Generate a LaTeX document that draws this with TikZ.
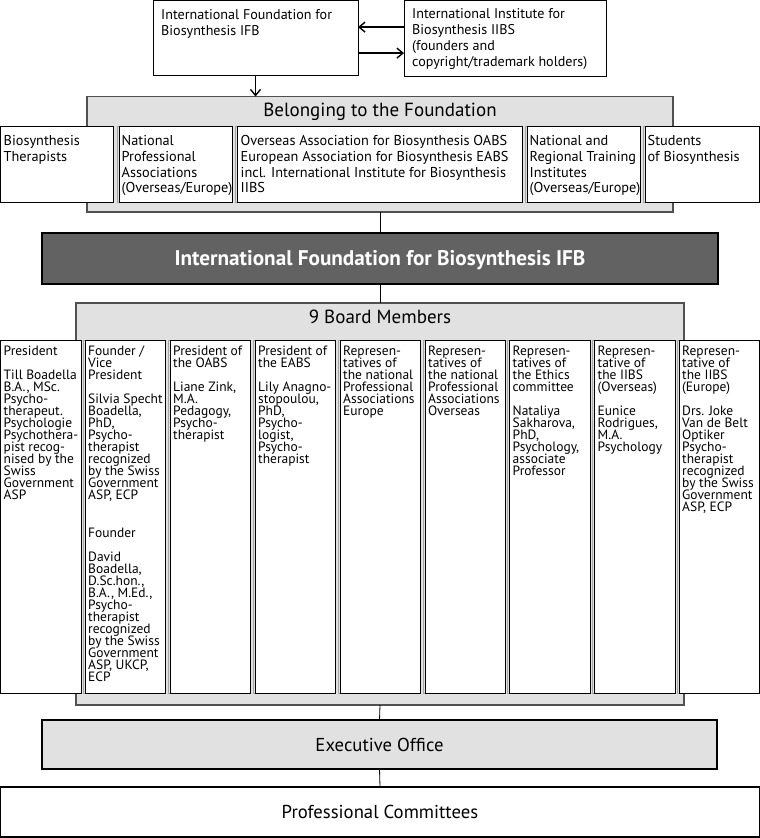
\documentclass[tikz,border=0pt]{standalone}
\usepackage{fontspec}
\setmainfont{PT Sans}
\usetikzlibrary{arrows.meta,calc}
\definecolor{lgray}{HTML}{E1E1E1}
\definecolor{dgray}{HTML}{626262}
\definecolor{edgegray}{HTML}{505050}
\newcommand\boardfont{\fontsize{13.5}{12}\selectfont\lineskiplimit=-20pt}
\newcommand\rowfont{\fontsize{14.3}{15.6}\selectfont\lineskiplimit=-20pt}
\newcommand\topfont{\fontsize{14.1}{16}\selectfont\lineskiplimit=-20pt}
\newcommand\titlefont{\fontsize{19}{21}\selectfont}
\newcommand\bigfont{\fontsize{18.7}{21}\selectfont}
\newcommand\darkfont{\fontsize{21.2}{24}\selectfont\bfseries}
\newcommand\placebox[6]{%
  \node[#1, minimum width={(#5-#3)*1pt}, minimum height={(#6-#4)*1pt}] (#2) at (#3,#4) {};}
\tikzset{
  wbox/.style={draw=black, fill=white, line width=0.9pt, inner sep=0pt, outer sep=0pt, anchor=north west},
  sbox/.style={wbox, preaction={draw=gray!70, line width=0.8pt, transform canvas={xshift=-1.8pt}}},
  gbox/.style={draw=edgegray, fill=lgray, line width=1.3pt, inner sep=0pt, outer sep=0pt, anchor=north west},
  darkbox/.style={draw=black, fill=dgray, line width=2pt, inner sep=0pt, outer sep=0pt, anchor=north west},
  txt/.style={anchor=north west, inner sep=0pt, align=left},
  arr/.style={-{Straight Barb[length=6pt,width=10pt]}, line width=1.4pt},
  conn/.style={line width=0.8pt},
}
\begin{document}
\begin{tikzpicture}[x=1pt,y=-1pt]
\useasboundingbox (0,0) rectangle (760,838);
% top boxes
\placebox{wbox}{ifbt}{153}{0.6}{358}{75}
\placebox{wbox}{iibs}{404}{0.6}{606}{76}
\node[txt, font=\topfont] (ifbt-t) at ($(ifbt.north west)+(8,8.5)$) {International Foundation for\\Biosynthesis IFB};
\node[txt, font=\topfont] (iibs-t) at ($(iibs.north west)+(8,7.5)$) {International Institute for\\Biosynthesis IIBS\\(founders and\\copyright/trademark holders)};
\draw[arr] ([yshift=-26.5pt]iibs.north west) -- ([yshift=-26.5pt]ifbt.north east);
\draw[arr] ([yshift=-52.5pt]ifbt.north east) -- ([yshift=-52.5pt]iibs.north west);

% belonging
\placebox{gbox}{belong}{87}{96.5}{673}{212}
\draw[arr] (ifbt.south) -- (ifbt.south |- belong.north);
\node[font=\titlefont, anchor=base, inner sep=0pt] (belong-t) at ($(belong.north)+(0,20)$) {Belonging to the Foundation};
\placebox{sbox}{r1}{0.5}{126}{113}{202}
\placebox{sbox}{r2}{119}{126}{232}{202}
\placebox{sbox}{r3}{237}{126}{522}{202}
\placebox{sbox}{r4}{527}{126}{640}{202}
\placebox{sbox}{r5}{645}{126}{759.5}{202}
\node[txt, font=\rowfont] at ($(r1.north west)+(3,9.5)$) {Biosynthesis\\Therapists};
\node[txt, font=\rowfont] at ($(r2.north west)+(2.5,9.5)$) {National\\Professional\\Associations\\(Overseas/Europe)};
\node[txt, font=\rowfont] at ($(r3.north west)+(3.5,9.5)$) {Overseas Association for Biosynthesis OABS\\European Association for Biosynthesis EABS\\incl. International Institute for Biosynthesis\\IIBS};
\node[txt, font=\rowfont] at ($(r4.north west)+(2.5,9.5)$) {National and\\Regional Training\\Institutes\\(Overseas/Europe)};
\node[txt, font=\rowfont] at ($(r5.north west)+(2.5,9.5)$) {Students\\of Biosynthesis};

% IFB dark
\node[darkbox, minimum width=676pt, minimum height=51pt, text=white, font=\darkfont, text height=14.5pt, text depth=0pt] (ifb) at (42,233) {International Foundation for Biosynthesis IFB};
\draw[conn] (belong.south) -- (ifb.north);

% board
\placebox{gbox}{board}{76}{303}{684}{705}
\draw[conn] (ifb.south) -- (board.north);
\node[font=\titlefont, anchor=base, inner sep=0pt] (board-t) at ($(board.north)+(0,20)$) {9 Board Members};
\placebox{sbox}{m1}{0.5}{340}{81}{693}
\placebox{sbox}{m2}{85}{340}{165.5}{693}
\placebox{sbox}{m3}{170}{340}{250.5}{693}
\placebox{sbox}{m4}{255}{340}{335.5}{693}
\placebox{sbox}{m5}{340}{340}{420.5}{693}
\placebox{sbox}{m6}{425}{340}{505.5}{693}
\placebox{sbox}{m7}{509.5}{340}{590}{693}
\placebox{sbox}{m8}{594.5}{340}{675}{693}
\placebox{sbox}{m9}{679}{340}{759.5}{693}
\node[txt, font=\boardfont] at ($(m1.north west)+(3,5.5)$) {President\\[12pt]Till Boadella\\B.A., MSc.\\Psycho-\\therapeut.\\Psychologie\\Psychothera-\\pist recog-\\nised by the\\Swiss\\Government\\ASP};
\node[txt, font=\boardfont] at ($(m2.north west)+(3,5.5)$) {Founder /\\Vice\\President\\[12pt]Silvia Specht\\Boadella,\\PhD,\\Psycho-\\therapist\\recognized\\by the Swiss\\Government\\ASP, ECP\\[26pt]Founder\\[12pt]David\\Boadella,\\D.Sc.hon.,\\B.A., M.Ed.,\\Psycho-\\therapist\\recognized\\by the Swiss\\Government\\ASP, UKCP,\\ECP};
\node[txt, font=\boardfont] at ($(m3.north west)+(3,5.5)$) {President of\\the OABS\\[12pt]Liane Zink,\\M.A.\\Pedagogy,\\Psycho-\\therapist};
\node[txt, font=\boardfont] at ($(m4.north west)+(3,5.5)$) {President of\\the EABS\\[12pt]Lily Anagno-\\stopoulou,\\PhD,\\Psycho-\\logist,\\Psycho-\\therapist};
\node[txt, font=\boardfont] at ($(m5.north west)+(3,5.5)$) {Represen-\\tatives of\\the national\\Professional\\Associations\\Europe};
\node[txt, font=\boardfont] at ($(m6.north west)+(3,5.5)$) {Represen-\\tatives of\\the national\\Professional\\Associations\\Overseas};
\node[txt, font=\boardfont] at ($(m7.north west)+(3,5.5)$) {Represen-\\tatives of\\the Ethics\\committee\\[12pt]Nataliya\\Sakharova,\\PhD,\\Psychology,\\associate\\Professor};
\node[txt, font=\boardfont] at ($(m8.north west)+(3,5.5)$) {Represen-\\tative of\\the IIBS\\(Overseas)\\[12pt]Eunice\\Rodrigues,\\M.A.\\Psychology};
\node[txt, font=\boardfont] at ($(m9.north west)+(3,5.5)$) {Represen-\\tative of\\the IIBS\\(Europe)\\[12pt]Drs. Joke\\Van de Belt\\Optiker\\Psycho-\\therapist\\recognized\\by the Swiss\\Government\\ASP, ECP};

% executive
\node[gbox, draw=black, line width=1.2pt, minimum width=675pt, minimum height=49pt, font=\bigfont, text height=13pt, text depth=0pt] (exec) at (42,720) {Executive Office};
\draw[conn] (board.south) -- (exec.north);
\node[wbox, line width=1.2pt, minimum width=758.8pt, minimum height=50pt, font=\bigfont, text height=13pt, text depth=0pt] (prof) at (0.6,787) {Professional Committees};
\draw[conn] (exec.south) -- (prof.north);
\end{tikzpicture}
\end{document}
